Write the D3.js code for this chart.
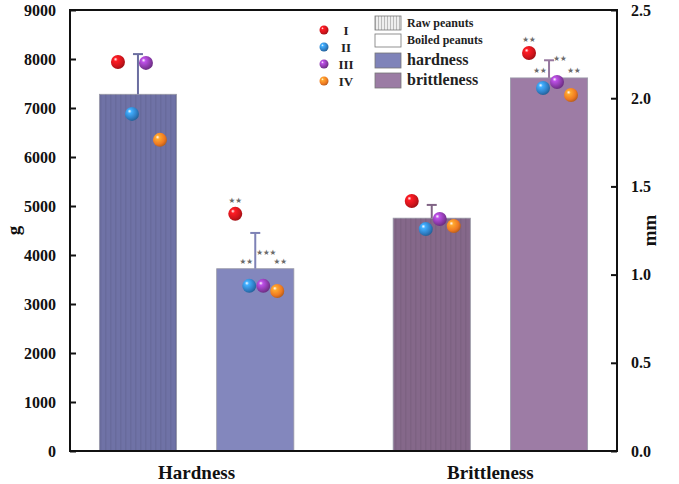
<!DOCTYPE html>
<html>
<head>
<meta charset="utf-8">
<script src="https://cdn.jsdelivr.net/npm/d3@7"></script>
<style>
  body { margin: 0; background: #fff; }
  svg { display: block; font-family: "Liberation Serif", "Times New Roman", serif; font-weight: bold; }
</style>
</head>
<body>
<svg id="chart" width="679" height="484"></svg>
<script>
// data
const groups = ['Hardness', 'Brittleness'];
const treatments = ['Raw peanuts', 'Boiled peanuts'];
const reps = ['I', 'II', 'III', 'IV'];

// hardness in g (left axis), brittleness in mm (right axis)
const hardnessMean = [7280, 3720];
const hardnessErr = [820, 730];
const hardnessPoints = [[7940, 6880, 7920, 6350], [4840, 3370, 3370, 3265]];
const hardnessSig = [['', '', '', ''], ['★★', '★★', '★★★', '★★']];

const brittleMean = [1.32, 2.115];
const brittleErr = [0.075, 0.10];
const brittlePoints = [[1.417, 1.258, 1.315, 1.275], [2.256, 2.058, 2.092, 2.018]];
const brittleSig = [['', '', '', ''], ['★★', '★★', '★★', '★★']];

const leftTicks = [0, 1000, 2000, 3000, 4000, 5000, 6000, 7000, 8000, 9000];
const rightTicks = [0, 0.5, 1.0, 1.5, 2.0, 2.5];

const barColors = {
  Hardness: ['#6f72a6', '#8387bd'],
  Brittleness: ['#85688a', '#9d7ca5']
};
const ballColors = ['#d0141b', '#2f7fc6', '#8a3aa8', '#ef7a22'];

const margin = { top: 10, right: 62, bottom: 33, left: 70 };
const W = 679, H = 484;

const svg = d3.select('#chart');
const defs = svg.append('defs');

ballColors.forEach((c, i) => {
  const g = defs.append('radialGradient')
      .attr('id', `ball${i}`)
      .attr('cx', '40%').attr('cy', '38%').attr('r', '65%')
      .attr('fx', '32%').attr('fy', '30%');
  g.append('stop').attr('offset', '0%').attr('stop-color', '#fff');
  g.append('stop').attr('offset', '22%').attr('stop-color', d3.color(c).brighter(0.9));
  g.append('stop').attr('offset', '70%').attr('stop-color', c);
  g.append('stop').attr('offset', '100%').attr('stop-color', d3.color(c).darker(0.8));
});

// faint vertical stripes on the raw-peanut bars
const stripe = defs.append('pattern')
    .attr('id', 'stripes')
    .attr('patternUnits', 'userSpaceOnUse')
    .attr('width', 5).attr('height', 10);
stripe.append('rect').attr('width', 1.5).attr('height', 10)
    .attr('fill', '#000').attr('opacity', 0.06);

const legendStripe = defs.append('pattern')
    .attr('id', 'legendStripes')
    .attr('patternUnits', 'userSpaceOnUse')
    .attr('width', 3).attr('height', 10);
legendStripe.append('rect').attr('width', 3).attr('height', 10).attr('fill', '#eee');
legendStripe.append('rect').attr('width', 1).attr('height', 10).attr('fill', '#bbb');

const x0 = d3.scaleBand()
    .domain(groups)
    .range([margin.left, W - margin.right])
    .paddingInner(0.338)
    .paddingOuter(0.1);

const x1 = d3.scaleBand()
    .domain(treatments)
    .range([0, x0.bandwidth()])
    .paddingInner(0.342);

const yL = d3.scaleLinear().domain([0, 9000]).range([H - margin.bottom, margin.top]);
const yR = d3.scaleLinear().domain([0, 2.5]).range([H - margin.bottom, margin.top]);

const ptX = d3.scalePoint().domain(reps).range([-20, 22]);

const series = [
  { group: 'Hardness', y: yL, mean: hardnessMean, err: hardnessErr, pts: hardnessPoints, sig: hardnessSig },
  { group: 'Brittleness', y: yR, mean: brittleMean, err: brittleErr, pts: brittlePoints, sig: brittleSig }
];

const plot = svg.append('g');

series.forEach(s => {
  treatments.forEach((t, ti) => {
    const bx = x0(s.group) + x1(t);
    const bw = x1.bandwidth();
    const cx = bx + bw / 2;
    const color = barColors[s.group][ti];
    const top = s.y(s.mean[ti]);

    plot.append('rect')
        .attr('x', bx).attr('y', top)
        .attr('width', bw).attr('height', s.y(0) - top)
        .attr('fill', color)
        .attr('stroke', '#9a9aa8').attr('stroke-width', 0.8);
    if (ti === 0) {
      plot.append('rect')
          .attr('x', bx).attr('y', top)
          .attr('width', bw).attr('height', s.y(0) - top)
          .attr('fill', 'url(#stripes)');
    }

    // one-sided error bar
    const ey = s.y(s.mean[ti] + s.err[ti]);
    const ec = d3.color(color).darker(0.1);
    plot.append('line')
        .attr('x1', cx).attr('x2', cx).attr('y1', top).attr('y2', ey)
        .attr('stroke', ec).attr('stroke-width', 2);
    plot.append('line')
        .attr('x1', cx - 5).attr('x2', cx + 5).attr('y1', ey).attr('y2', ey)
        .attr('stroke', ec).attr('stroke-width', 2);

    // replicate balls
    s.pts[ti].forEach((v, i) => {
      const px = cx + ptX(reps[i]);
      const py = s.y(v);
      plot.append('circle')
          .attr('cx', px).attr('cy', py).attr('r', 7)
          .attr('fill', `url(#ball${i})`);
      const mark = s.sig[ti][i];
      if (mark) {
        let sy = i === 0 ? py - 11 : Math.min(py - 7, top) - 5;
        if (i === 2) sy -= 9;
        const sx = i === 1 ? px - 3 : i >= 2 ? px + 3 : px;
        plot.append('text')
            .attr('x', sx).attr('y', sy)
            .attr('text-anchor', 'middle')
            .attr('font-family', 'DejaVu Sans')
            .attr('font-weight', 'normal')
            .attr('font-size', 7.5)
            .attr('fill', '#6a6a6a')
            .text(mark);
      }
    });
  });
});

// frame
svg.append('rect')
    .attr('x', margin.left).attr('y', margin.top)
    .attr('width', W - margin.left - margin.right)
    .attr('height', H - margin.top - margin.bottom)
    .attr('fill', 'none').attr('stroke', '#111').attr('stroke-width', 2);

const axisL = svg.append('g')
    .attr('transform', `translate(${margin.left},0)`)
    .call(d3.axisLeft(yL).tickValues(leftTicks).tickFormat(d3.format('d'))
      .tickSizeInner(-6).tickSizeOuter(0).tickPadding(14));
const axisR = svg.append('g')
    .attr('transform', `translate(${W - margin.right},0)`)
    .call(d3.axisRight(yR).tickValues(rightTicks).tickFormat(d3.format('.1f'))
      .tickSizeInner(-6).tickSizeOuter(0).tickPadding(14));
[axisL, axisR].forEach(a => {
  a.select('.domain').remove();
  a.selectAll('.tick line').attr('stroke', '#111').attr('stroke-width', 2);
  a.selectAll('.tick text')
      .attr('font-family', 'Liberation Serif')
      .attr('font-weight', 'bold')
      .attr('font-size', 16)
      .attr('fill', '#111');
});

// category labels
svg.append('g').selectAll('text')
  .data(groups)
  .join('text')
    .attr('x', d => x0(d) + x0.bandwidth() / 2)
    .attr('y', 479)
    .attr('text-anchor', 'middle')
    .attr('font-size', 19)
    .attr('fill', '#111')
    .text(d => d);

// axis titles
const midY = (margin.top + H - margin.bottom) / 2;
svg.append('text')
    .attr('transform', `translate(20,${midY}) rotate(-90)`)
    .attr('text-anchor', 'middle')
    .attr('font-size', 19).attr('fill', '#111')
    .text('g');
svg.append('text')
    .attr('transform', `translate(656,${midY}) rotate(-90)`)
    .attr('text-anchor', 'middle')
    .attr('font-size', 19).attr('fill', '#111')
    .text('mm');

// legend: replicates
const legReps = svg.append('g');
reps.forEach((r, i) => {
  const ly = 30 + i * 17;
  legReps.append('circle')
      .attr('cx', 324).attr('cy', ly).attr('r', 4.5)
      .attr('fill', `url(#ball${i})`);
  legReps.append('text')
      .attr('x', 346).attr('y', ly + 5)
      .attr('text-anchor', 'middle')
      .attr('font-size', 13).attr('fill', '#222')
      .text(r);
});

// legend: swatches
const legItems = [
  { label: treatments[0], fill: 'url(#legendStripes)', size: 12, y: 16, h: 14 },
  { label: treatments[1], fill: '#fff', size: 12, y: 34, h: 13 },
  { label: 'hardness', fill: '#7f83b9', size: 16, y: 53, h: 15 },
  { label: 'brittleness', fill: '#9b7ca4', size: 16, y: 73, h: 15 }
];
const legSw = svg.append('g');
legItems.forEach(d => {
  legSw.append('rect')
      .attr('x', 375).attr('y', d.y)
      .attr('width', 26).attr('height', d.h)
      .attr('fill', d.fill)
      .attr('stroke', '#777').attr('stroke-width', 0.8);
  legSw.append('text')
      .attr('x', 407).attr('y', d.y + d.h - 3)
      .attr('font-size', d.size).attr('fill', '#222')
      .text(d.label);
});
</script>
</body>
</html>
